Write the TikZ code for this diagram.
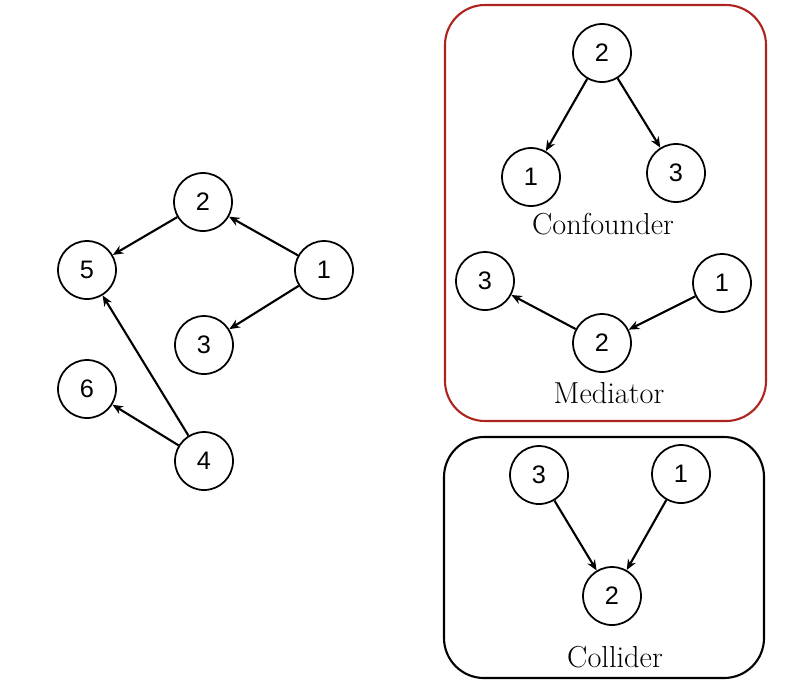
\documentclass[tikz,border=0pt]{standalone}
\usepackage{fontspec}
\newfontfamily\nodefont{Liberation Sans}
\usetikzlibrary{arrows.meta}
\begin{document}
\begin{tikzpicture}[x=0.02cm,y=-0.02cm,
  vnode/.style={circle,draw,line width=1pt,minimum size=1.16cm,inner sep=0pt,font=\nodefont\Large},
  edge/.style={line width=1.2pt,-{Stealth[length=6pt,width=5pt]}},
  lbl/.style={font=\LARGE}]
\useasboundingbox (0,0) rectangle (803,684);
\draw[line width=1.2pt,draw={rgb,255:red,175;green,35;blue,30},rounded corners=0.8cm] (445,5) rectangle (766,421);
\draw[line width=1.2pt,rounded corners=0.8cm] (444,437) rectangle (764,678);
% left graph
\node[vnode] (a2) at (203,202) {2};
\node[vnode] (a5) at (87,270) {5};
\node[vnode] (a1) at (324,270) {1};
\node[vnode] (a3) at (204,345) {3};
\node[vnode] (a6) at (87,389) {6};
\node[vnode] (a4) at (204,461) {4};
\draw[edge] (a2) -- (a5);
\draw[edge] (a1) -- (a2);
\draw[edge] (a1) -- (a3);
\draw[edge] (a4) -- (a5);
\draw[edge] (a4) -- (a6);
% confounder
\node[vnode] (c2) at (602,53) {2};
\node[vnode] (c1) at (531,177) {1};
\node[vnode] (c3) at (676,173) {3};
\node[lbl] (cl) at (603,224) {Confounder};
\draw[edge] (c2) -- (c1);
\draw[edge] (c2) -- (c3);
% mediator
\node[vnode] (m3) at (485,281) {3};
\node[vnode] (m1) at (722,283) {1};
\node[vnode] (m2) at (602,343) {2};
\node[lbl] (ml) at (609,393) {Mediator};
\draw[edge] (m1) -- (m2);
\draw[edge] (m2) -- (m3);
% collider
\node[vnode] (k3) at (539,475) {3};
\node[vnode] (k1) at (681,474) {1};
\node[vnode] (k2) at (612,596) {2};
\node[lbl] (kl) at (615,657) {Collider};
\draw[edge] (k3) -- (k2);
\draw[edge] (k1) -- (k2);
\end{tikzpicture}
\end{document}
